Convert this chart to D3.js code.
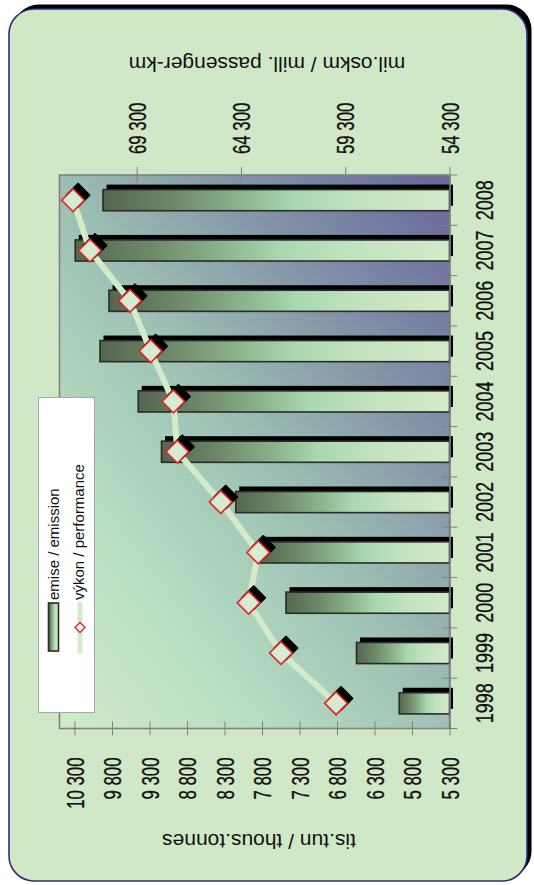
<!DOCTYPE html>
<html>
<head>
<meta charset="utf-8">
<script src="https://cdn.jsdelivr.net/npm/d3@7"></script>
<style>
html,body{margin:0;padding:0;background:#ffffff;}
svg{display:block;}
</style>
</head>
<body>
<svg id="chart" width="534" height="885"></svg>
<script>
// ---- data ----
const years = ["1998","1999","2000","2001","2002","2003","2004","2005","2006","2007","2008"];
const emission = [5970, 6540, 7480, 7830, 8150, 9140, 9450, 9960, 9840, 10290, 9920];
const performance = [59740, 62380, 63930, 63470, 65270, 67350, 67540, 68630, 69620, 71540, 72350];
const emissionTicks = [5300, 5800, 6300, 6800, 7300, 7800, 8300, 8800, 9300, 9800, 10300];
const performanceTicks = [54300, 59300, 64300, 69300];
const emissionTitle = "tis.tun / thous.tonnes";
const performanceTitle = "mil.oskm / mill. passenger-km";
const legendLabels = ["emise / emission", "výkon / performance"];

// ---- layout ----
const svg = d3.select("#chart");
const plot = {left: 59.5, right: 449.5, top: 175, bottom: 728.5};
const fmt = d3.formatLocale({decimal: ",", thousands: " ", grouping: [3], currency: ["", ""]}).format(",");

const xEm = d3.scaleLinear().domain([5300, 10500]).range([plot.right, plot.left]);
const xPerf = d3.scaleLinear().domain([54300, 73000]).range([plot.right, plot.left]);
const yBand = d3.scaleBand().domain(years).range([plot.bottom, plot.top]).padding(0);

const defs = svg.append("defs");
const bg = defs.append("linearGradient").attr("id", "bgGrad")
  .attr("gradientUnits", "userSpaceOnUse")
  .attr("x1", 59).attr("y1", 728).attr("x2", 574).attr("y2", 342);
[[0, "#d2eac9"], [0.25, "#b6dec3"], [0.5, "#9dc0b3"], [0.75, "#8190a7"], [1, "#67669b"]]
  .forEach(([o, c]) => bg.append("stop").attr("offset", o).attr("stop-color", c));

const barG = defs.append("linearGradient").attr("id", "barGrad")
  .attr("x1", 0).attr("y1", 0).attr("x2", 1).attr("y2", 0);
[[0, "#55664f"], [0.2, "#6d8869"], [0.4, "#8cb58d"], [0.55, "#a9d8b1"], [0.75, "#c3e3bf"], [1, "#d3eac9"]]
  .forEach(([o, c]) => barG.append("stop").attr("offset", o).attr("stop-color", c));

// ---- frame ----
svg.append("rect").attr("x", 13.5).attr("y", 4.5).attr("width", 518).attr("height", 872)
  .attr("rx", 25).attr("fill", "#000");
svg.append("rect").attr("x", 9).attr("y", 9).attr("width", 518).attr("height", 872)
  .attr("rx", 25).attr("fill", "#d1e8c7").attr("stroke", "#2b2f7c").attr("stroke-width", 1.6);

// ---- plot area ----
svg.append("rect").attr("x", plot.left).attr("y", plot.top)
  .attr("width", plot.right - plot.left).attr("height", plot.bottom - plot.top)
  .attr("fill", "url(#bgGrad)").attr("stroke", "#808080").attr("stroke-width", 1.6);

// ---- bars ----
const barH = yBand.bandwidth() * 0.42;
const barsG = svg.append("g");
years.forEach((yr, i) => {
  const y = yBand(yr) + (yBand.bandwidth() - barH) / 2;
  const x = xEm(emission[i]);
  barsG.append("rect").attr("x", x + 3.5).attr("y", y - 5).attr("width", xEm(5300) - x)
    .attr("height", barH).attr("fill", "#000");
});
years.forEach((yr, i) => {
  const y = yBand(yr) + (yBand.bandwidth() - barH) / 2;
  const x = xEm(emission[i]);
  barsG.append("rect").attr("x", x).attr("y", y).attr("width", xEm(5300) - x)
    .attr("height", barH).attr("fill", "url(#barGrad)")
    .attr("stroke", "#2a2a2a").attr("stroke-width", 1.6);
});

// ---- line ----
const cy = yr => yBand(yr) + yBand.bandwidth() / 2;
const line = d3.line().x((d, i) => xPerf(d)).y((d, i) => cy(years[i]));
svg.append("path").datum(performance).attr("d", line)
  .attr("fill", "none").attr("stroke", "#d3ebc9").attr("stroke-width", 6)
  .attr("stroke-linejoin", "round");

const diamond = d3.symbol().type(d3.symbolSquare).size(260);
const mk = svg.append("g");
performance.forEach((v, i) => {
  mk.append("path").attr("d", diamond())
    .attr("transform", `translate(${xPerf(v) + 5},${cy(years[i]) - 5}) rotate(45)`)
    .attr("fill", "#000").attr("stroke", "#000").attr("stroke-width", 2).attr("stroke-linejoin", "round");
});
performance.forEach((v, i) => {
  mk.append("path").attr("d", diamond())
    .attr("transform", `translate(${xPerf(v)},${cy(years[i])}) rotate(45)`)
    .attr("fill", "#d4ecd0").attr("stroke", "#e8202a").attr("stroke-width", 1.6);
});

// ---- axes ----
const numFont = "'Liberation Sans',Arial,sans-serif";
const numStyle = sel => sel.attr("font-family", numFont).attr("font-size", 24)
  .attr("fill", "#111").attr("stroke", "#111").attr("stroke-width", 0.35);

const axB = svg.append("g").attr("transform", `translate(0,${plot.bottom})`)
  .call(d3.axisBottom(xEm).tickValues(emissionTicks).tickFormat(fmt).tickSize(7));
axB.select(".domain").remove();
axB.selectAll(".tick line").attr("y1", -7).attr("y2", 7).attr("stroke", "#808080").attr("stroke-width", 1);
axB.selectAll(".tick text").attr("y", null).attr("dy", null)
  .attr("transform", "translate(0,29) rotate(-90) scale(0.7,1)")
  .attr("text-anchor", "end").attr("dominant-baseline", "central").call(numStyle);

const axT = svg.append("g").attr("transform", `translate(0,${plot.top})`)
  .call(d3.axisTop(xPerf).tickValues(performanceTicks).tickFormat(fmt).tickSize(7));
axT.select(".domain").remove();
axT.selectAll(".tick line").attr("y1", -8).attr("y2", 7).attr("stroke", "#808080").attr("stroke-width", 1);
axT.selectAll(".tick text").attr("y", null).attr("dy", null)
  .attr("transform", "translate(0,-21) rotate(-90) scale(0.7,1)")
  .attr("text-anchor", "start").attr("dominant-baseline", "central").call(numStyle);

const axR = svg.append("g").attr("transform", `translate(${plot.right},0)`)
  .call(d3.axisRight(yBand).tickSize(0).tickFormat(d => d));
axR.select(".domain").attr("stroke", "#808080").attr("stroke-width", 1.6);
axR.selectAll(".tick text").attr("x", null).attr("dy", null)
  .attr("transform", "translate(35.5,0) rotate(-90) scale(0.75,1)")
  .attr("text-anchor", "middle").attr("dominant-baseline", "central").call(numStyle);
// category boundary ticks
const bounds = years.map(y => yBand(y)).concat([plot.bottom]);
axR.selectAll(".bound").data(bounds).enter().append("line").attr("class", "bound")
  .attr("x1", -7).attr("x2", 8).attr("y1", d => d).attr("y2", d => d)
  .attr("stroke", "#808080").attr("stroke-width", 1);

// ---- axis titles ----
const titleFont = "'Liberation Sans',Arial,sans-serif";
svg.append("text").attr("transform", "translate(267,57) rotate(180)")
  .attr("text-anchor", "middle").attr("font-family", titleFont).attr("font-size", 21)
  .attr("fill", "#111").text(performanceTitle);
svg.append("text").attr("transform", "translate(259,834) rotate(180)")
  .attr("text-anchor", "middle").attr("font-family", titleFont).attr("font-size", 21)
  .attr("fill", "#111").text(emissionTitle);

// ---- legend ----
const lg = svg.append("g");
lg.append("rect").attr("x", 38.5).attr("y", 397.5).attr("width", 56).attr("height", 315)
  .attr("fill", "#fff").attr("stroke", "#a8a8a8").attr("stroke-width", 1);
lg.append("rect").attr("x", 48.5).attr("y", 603).attr("width", 10).attr("height", 48)
  .attr("fill", "url(#barGrad)").attr("stroke", "#2a2a2a").attr("stroke-width", 1.6);
lg.append("line").attr("x1", 80).attr("x2", 80).attr("y1", 604).attr("y2", 651)
  .attr("stroke", "#d3ebc9").attr("stroke-width", 5).attr("stroke-linecap", "round");
lg.append("path").attr("d", d3.symbol().type(d3.symbolSquare).size(50)())
  .attr("transform", "translate(80,627.5) rotate(45)")
  .attr("fill", "#fff").attr("stroke", "#e8202a").attr("stroke-width", 1.3);
lg.append("text").attr("transform", "translate(59,600) rotate(-90)")
  .attr("font-family", titleFont).attr("font-size", 15).attr("fill", "#111").text(legendLabels[0]);
lg.append("text").attr("transform", "translate(83.5,600) rotate(-90)")
  .attr("font-family", titleFont).attr("font-size", 15).attr("fill", "#111").text(legendLabels[1]);
</script>
</body>
</html>
